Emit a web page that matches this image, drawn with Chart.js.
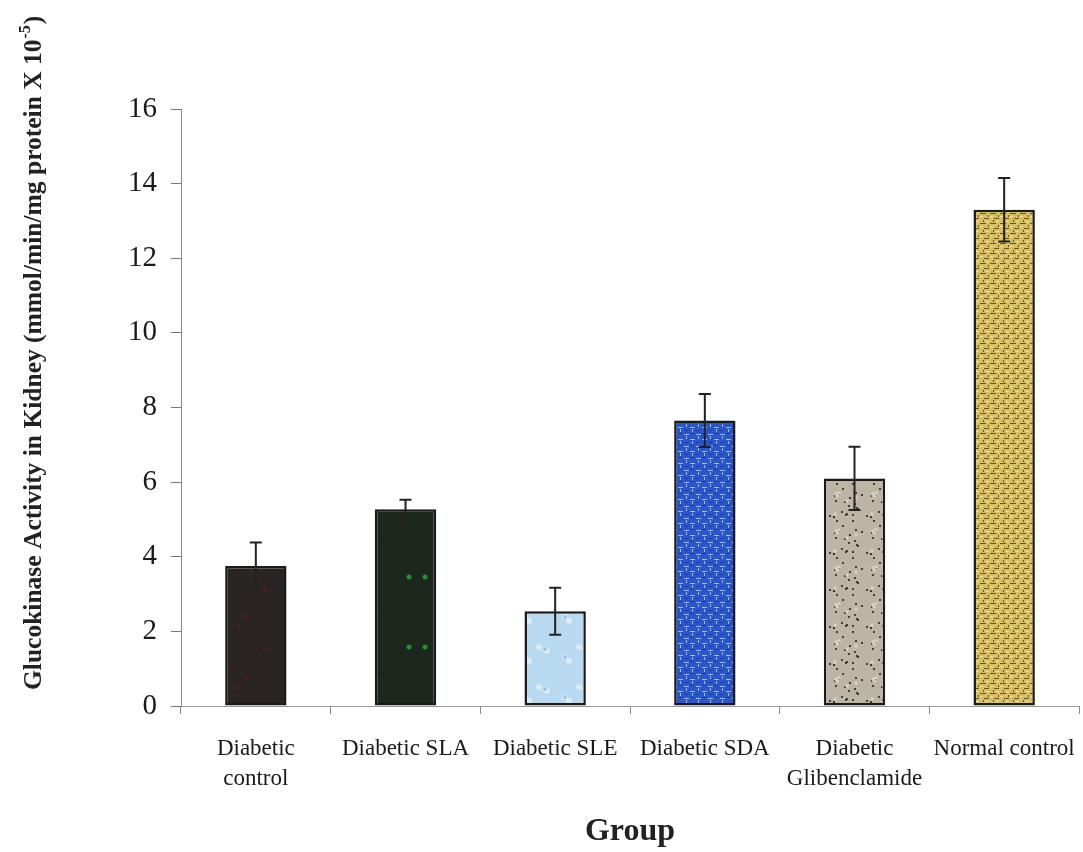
<!DOCTYPE html>
<html>
<head>
<meta charset="utf-8">
<script src="https://cdn.jsdelivr.net/npm/chart.js@4/dist/chart.umd.min.js"></script>
<style>
  html, body { margin: 0; padding: 0; background: #fff; }
  #wrap { width: 1083px; height: 852px; }
</style>
</head>
<body>
<div id="wrap"><canvas id="chart" width="1083" height="852"></canvas></div>
<script>
// values
const groups = [['Diabetic', 'control'], 'Diabetic SLA', 'Diabetic SLE', 'Diabetic SDA', ['Diabetic', 'Glibenclamide'], 'Normal control'];
const means  = [3.75, 5.27, 2.54, 7.65, 6.10, 13.30];
const sds    = [0.63, 0.26, 0.63, 0.71, 0.85, 0.85];
const yTicks = [0, 2, 4, 6, 8, 10, 12, 14, 16];

const SERIF = '"Liberation Serif", "Times New Roman", serif';

// small tiled textures, like the scanned fills
function texture(base, size, paint) {
  const c = document.createElement('canvas');
  c.width = c.height = size;
  const g = c.getContext('2d');
  g.fillStyle = base;
  g.fillRect(0, 0, size, size);
  paint(g, size);
  return g.createPattern(c, 'repeat');
}

function blobs(g, size, color, count, r) {
  g.fillStyle = color;
  for (let i = 0; i < count; i++) {
    const x = (i * i * 7 + i * 13 + 5) % size;
    const y = (i * 29 + i * i * 3 + 17) % size;
    g.beginPath();
    g.arc(x, y, r, 0, Math.PI * 2);
    g.fill();
  }
}

const fills = [
  texture('#2a2423', 60, (g, s) => blobs(g, s, '#3e2320', 4, 3)),
  texture('#1c271e', 70, (g, s) => blobs(g, s, '#2c8a3a', 3, 2.5)),
  texture('#b9d9f0', 40, (g, s) => { blobs(g, s, '#d8ecf9', 5, 3); blobs(g, s, '#9fc6e6', 2, 2); }),
  texture('#2b56c9', 12, (g, s) => {
    g.fillStyle = '#9dbcf2';
    g.fillRect(0, 2, 5, 1); g.fillRect(6, 7, 5, 1);
    g.fillRect(2, 4, 1, 3); g.fillRect(8, 9, 1, 3);
    g.fillStyle = '#1d3ea8';
    g.fillRect(6, 1, 4, 1); g.fillRect(0, 10, 4, 1);
  }),
  texture('#bcb4a4', 37, (g, s) => { blobs(g, s, '#2a2620', 26, 1.1); blobs(g, s, '#d8d2c6', 6, 1.8); }),
  texture('#d6bf62', 10, (g, s) => {
    g.fillStyle = '#6e5414';
    g.fillRect(0, 3, 6, 1); g.fillRect(4, 8, 5, 1);
    g.fillRect(3, 0, 1, 2); g.fillRect(8, 5, 1, 2);
    g.fillStyle = '#efe0a0';
    g.fillRect(6, 1, 3, 1); g.fillRect(0, 6, 3, 1);
  })
];

const errorBars = {
  id: 'errorBars',
  afterDatasetsDraw(chart) {
    const ctx  = chart.ctx;
    const y    = chart.scales.y;
    const meta = chart.getDatasetMeta(0);
    ctx.save();
    ctx.strokeStyle = '#222';
    ctx.lineWidth = 2;
    meta.data.forEach((bar, i) => {
      const hi = y.getPixelForValue(means[i] + sds[i]);
      const lo = y.getPixelForValue(means[i] - sds[i]);
      const cap = 6;
      ctx.beginPath();
      ctx.moveTo(bar.x, hi); ctx.lineTo(bar.x, lo);
      ctx.moveTo(bar.x - cap, hi); ctx.lineTo(bar.x + cap, hi);
      ctx.moveTo(bar.x - cap, lo); ctx.lineTo(bar.x + cap, lo);
      ctx.stroke();
    });
    ctx.restore();
  }
};

const axisTitles = {
  id: 'axisTitles',
  afterDraw(chart) {
    const ctx  = chart.ctx;
    const area = chart.chartArea;
    ctx.save();
    ctx.fillStyle = '#222';

    ctx.font = 'bold 32px ' + SERIF;
    ctx.textAlign = 'center';
    ctx.textBaseline = 'alphabetic';
    ctx.fillText('Group', (area.left + area.right) / 2, 840);

    ctx.translate(41, 690);
    ctx.rotate(-Math.PI / 2);
    ctx.textAlign = 'left';
    const main = 'Glucokinase Activity in Kidney (mmol/min/mg protein X 10';
    ctx.font = 'bold 25.5px ' + SERIF;
    ctx.fillText(main, 0, 0);
    let w = ctx.measureText(main).width;
    ctx.font = 'bold 16px ' + SERIF;
    ctx.fillText('-5', w + 1, -11);
    w += ctx.measureText('-5').width + 2;
    ctx.font = 'bold 25.5px ' + SERIF;
    ctx.fillText(')', w, 0);
    ctx.restore();
  }
};

new Chart(document.getElementById('chart'), {
  type: 'bar',
  data: {
    labels: groups,
    datasets: [{
      data: means,
      backgroundColor: fills,
      borderColor: '#1a1a1a',
      borderWidth: 2.5,
      borderSkipped: false,
      barPercentage: 0.41,
      categoryPercentage: 1
    }]
  },
  options: {
    responsive: false,
    animation: false,
    layout: { padding: { top: 109, right: 4, left: 0, bottom: 0 } },
    plugins: { legend: { display: false }, tooltip: { enabled: false } },
    scales: {
      x: {
        afterFit: s => { s.height = 146; s.paddingLeft = 0; s.paddingRight = 0; },
        grid: { drawOnChartArea: false, offset: true, tickLength: 8, color: '#888' },
        border: { color: '#999', width: 1 },
        ticks: { font: { family: SERIF, size: 23, lineHeight: 1.3 }, color: '#1a1a1a', padding: 20, maxRotation: 0, autoSkip: false }
      },
      y: {
        min: 0,
        max: 16,
        afterFit: s => { s.width = 181; },
        afterBuildTicks: s => { s.ticks = yTicks.map(v => ({ value: v })); },
        grid: { drawOnChartArea: false, tickLength: 10, color: '#777' },
        border: { color: '#888', width: 1 },
        ticks: { font: { family: SERIF, size: 29 }, color: '#1a1a1a', padding: 14 }
      }
    }
  },
  plugins: [errorBars, axisTitles]
});
</script>
</body>
</html>
